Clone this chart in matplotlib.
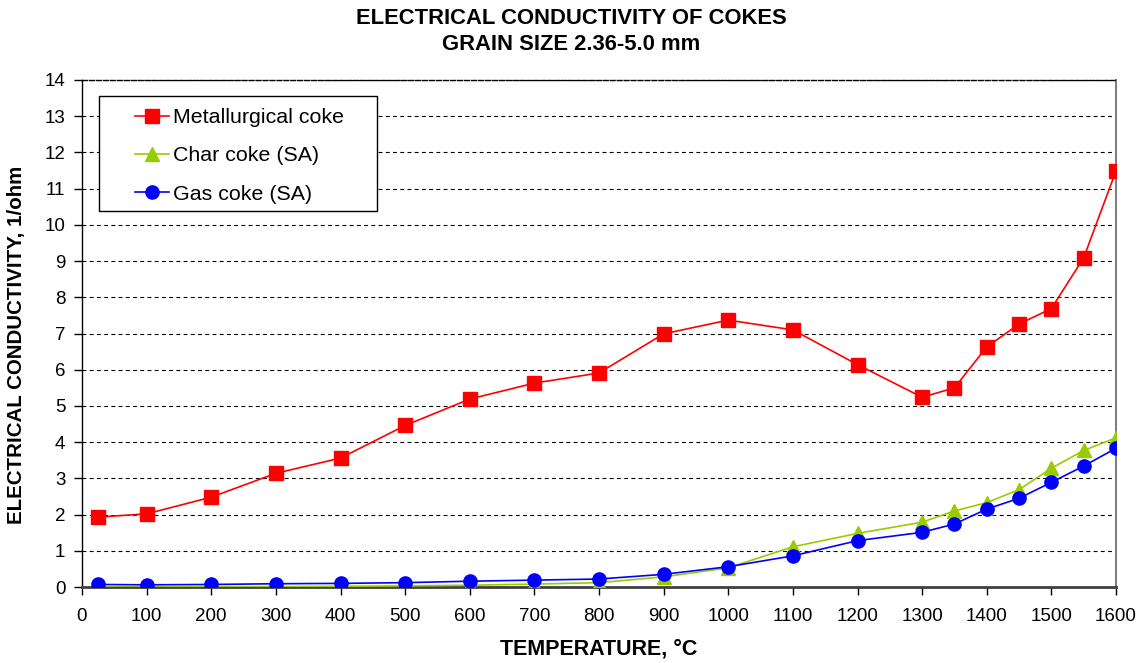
import matplotlib
matplotlib.use("Agg")
import matplotlib.pyplot as plt
from matplotlib.patches import Rectangle

plt.rcParams['font.family'] = ['Liberation Sans', 'DejaVu Sans']

temperature = [25, 100, 200, 300, 400, 500, 600, 700, 800, 900, 1000, 1100,
               1200, 1300, 1350, 1400, 1450, 1500, 1550, 1600]
metallurgical = [1.93, 2.02, 2.48, 3.14, 3.56, 4.46, 5.19, 5.63, 5.91, 6.99, 7.37, 7.10,
                 6.14, 5.24, 5.50, 6.63, 7.26, 7.69, 9.09, 11.49]
char_coke = [0.00, 0.00, 0.01, 0.01, 0.02, 0.03, 0.05, 0.08, 0.12, 0.28, 0.53, 1.11,
             1.48, 1.79, 2.10, 2.33, 2.69, 3.28, 3.77, 4.12]
gas_coke = [0.07, 0.06, 0.07, 0.09, 0.10, 0.12, 0.16, 0.19, 0.22, 0.35, 0.56, 0.86,
            1.28, 1.51, 1.74, 2.15, 2.45, 2.89, 3.34, 3.83]

series_names = ["Metallurgical coke", "Char coke (SA)", "Gas coke (SA)"]
x_ticks = list(range(0, 1601, 100))
y_ticks = list(range(0, 15))

W, H = 1142, 663
fig = plt.figure(figsize=(W/100, H/100), dpi=100)
AX_L, AX_R, AX_T, AX_B = 82, 1116, 80, 587
ax = fig.add_axes([AX_L/W, (H-AX_B)/H, (AX_R-AX_L)/W, (AX_B-AX_T)/H])

def ax_frac(px, py):
    return ((px-AX_L)/(AX_R-AX_L), (AX_B-py)/(AX_B-AX_T))

ax.plot(temperature, metallurgical, color='#FF0000', lw=1.2, marker='s', ms=9.5,
        mec='#FF0000', mfc='#FF0000', label=series_names[0], zorder=3)
ax.plot(temperature, char_coke, color='#99CC00', lw=1.2, marker='^', ms=10,
        mec='#99CC00', mfc='#99CC00', label=series_names[1], zorder=4)
ax.plot(temperature, gas_coke, color='#0000FF', lw=1.2, marker='o', ms=9.5,
        mec='#0000FF', mfc='#0000FF', label=series_names[2], zorder=5)

ax.set_xlim(0, 1600)
ax.set_ylim(0, 14)
ax.set_xticks(x_ticks)
ax.set_yticks(y_ticks)
ax.tick_params(axis='both', direction='out', length=6, width=1, labelsize=13.5,
               color='black')
ax.tick_params(axis='x', pad=9)
ax.tick_params(axis='y', pad=6)

ax.yaxis.grid(True, color='black', linestyle=(0, (3.5, 3)), linewidth=0.8)
ax.set_axisbelow(True)

ax.spines['left'].set_color('black')
ax.spines['left'].set_linewidth(1.0)
ax.spines['bottom'].set_color('#404040')
ax.spines['bottom'].set_linewidth(2.0)
ax.spines['right'].set_color('#808080')
ax.spines['right'].set_linewidth(1.5)
ax.spines['top'].set_color('black')
ax.spines['top'].set_linewidth(1.0)
ax.spines['top'].set_linestyle((0, (3.5, 1.5)))

ax.set_xlabel("TEMPERATURE, °C", fontsize=15.5, fontweight='bold', labelpad=10)
ax.set_ylabel("ELECTRICAL CONDUCTIVITY, 1/ohm", fontsize=14.8, fontweight='bold',
              va='center', ha='center')
ax.yaxis.set_label_coords(*ax_frac(17, 345))

fig.text(0.5, 1 - 18/H, "ELECTRICAL CONDUCTIVITY OF COKES", ha='center', va='center',
         fontsize=15.8, fontweight='bold')
fig.text(0.5, 1 - 44/H, "GRAIN SIZE 2.36-5.0 mm", ha='center', va='center',
         fontsize=15.8, fontweight='bold')

# legend box
x0, y0 = ax_frac(99, 211)
x1, y1 = ax_frac(377, 96)
ax.add_patch(Rectangle((x0, y0), x1-x0, y1-y0, transform=ax.transAxes,
                       facecolor='white', edgecolor='black', linewidth=1.0, zorder=6))

leg = ax.legend(loc='upper left', bbox_to_anchor=ax_frac(135, 108),
                borderaxespad=0, borderpad=0, fontsize=15.4, frameon=False,
                handlelength=1.6, handletextpad=0.17, labelspacing=0.9,
                markerscale=1.0)
leg.set_zorder(7)

fig.savefig("out.png", dpi=100)
